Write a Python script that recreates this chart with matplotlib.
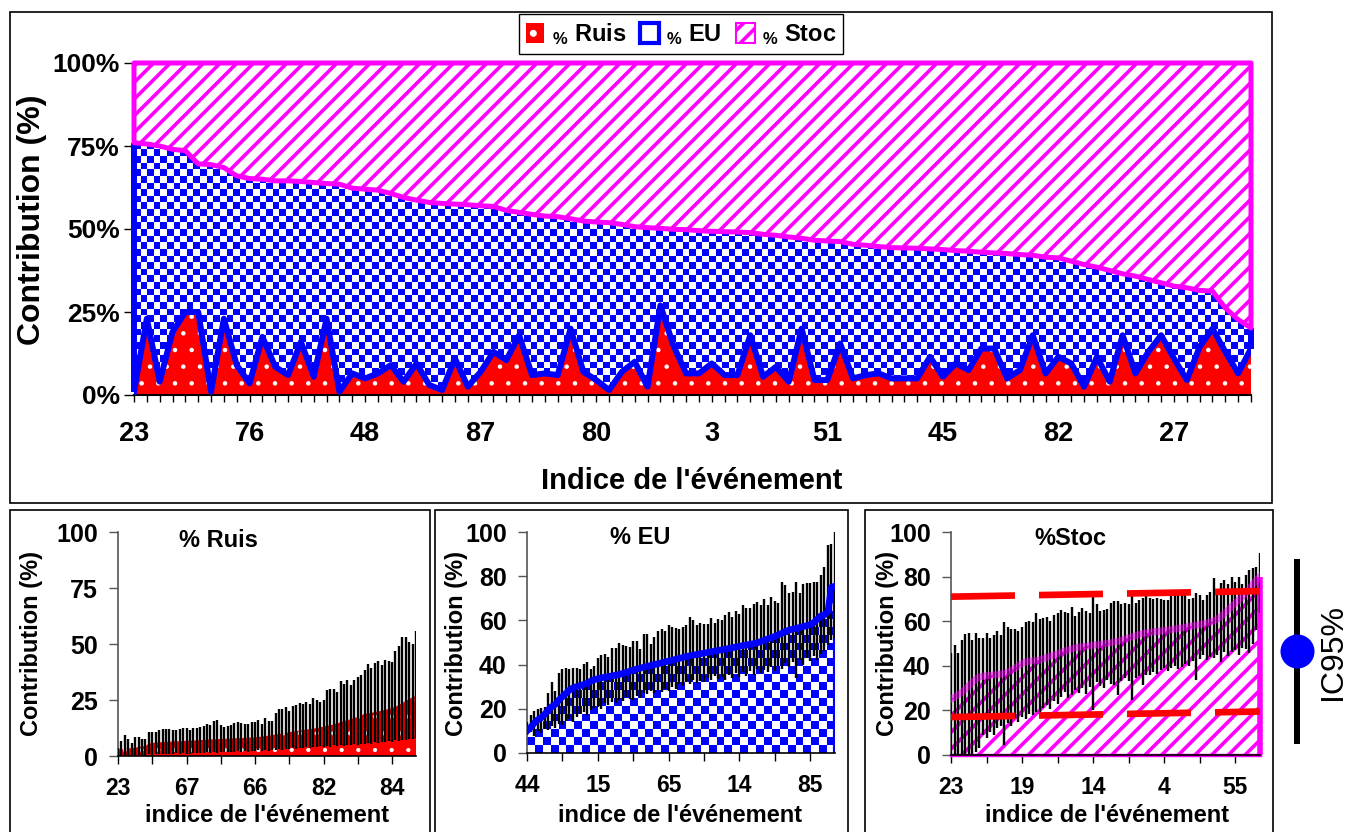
import numpy as np
import matplotlib
matplotlib.use('Agg')
import matplotlib.pyplot as plt
from matplotlib.colors import ListedColormap
from matplotlib.patches import Polygon, Patch, Rectangle
from matplotlib.lines import Line2D

# ---------------- donnees ----------------
# graphe du haut : contribution de chaque evenement (%)
pct_ruis = [1, 23, 4, 19, 25, 25, 1, 23, 9, 3.5,
            17.5, 8.5, 6, 16, 5.5, 23, 1, 6.5, 5, 6.5,
            9, 4, 9.5, 3, 1.5, 11, 2.5, 7, 13, 10.5,
            18, 6, 6.5, 6, 20, 7, 4.5, 1.5, 7, 10,
            2.5, 27, 15, 6.5, 6.5, 9.5, 6, 6, 18, 5.5,
            8.5, 4, 20, 4.5, 4.5, 15.5, 5, 6, 6.5, 5,
            5, 5, 11.5, 5.5, 9.5, 7.5, 14, 14, 5, 7.5,
            18, 6.5, 11.5, 9.5, 2.5, 11.5, 4, 18, 6.5, 13,
            18, 11, 4.5, 14.5, 20, 13, 6.5, 14]
pct_stoc = [24, 24.4, 25, 26, 26.4, 30.4, 30.6, 31.5, 34, 34.8,
            35, 35.5, 35.5, 35.7, 36, 36.3, 36.5, 37.7, 38, 38.3,
            39.3, 40.5, 41.3, 42, 42.3, 42.5, 42.7, 43, 43.2, 44.4,
            45, 45.6, 46.1, 46.3, 46.9, 47.6, 47.9, 48.1, 48.6, 49.3,
            49.6, 49.8, 50.1, 50.2, 50.5, 50.7, 50.8, 50.9, 51.1, 51.6,
            51.9, 52.4, 52.8, 53.4, 53.6, 53.8, 54.6, 54.9, 55.3, 55.6,
            55.7, 55.8, 56.0, 56.2, 56.5, 56.7, 57.0, 57.2, 57.4, 57.7,
            57.9, 58.5, 58.7, 59.7, 60.7, 61.5, 62.5, 63.5, 64.2, 65.2,
            66.2, 67.2, 67.7, 68.5, 68.7, 73.8, 77.3, 79.8]
etiq_haut = ['23', '76', '48', '87', '80', '3', '51', '45', '82', '27']

# panneau % Ruis (trie)
ruis_moy = [3.0, 3.0, 3.2, 3.4, 3.5, 3.7, 4.0, 4.2, 4.4, 5.6,
            5.8, 5.9, 6.1, 6.2, 6.3, 6.4, 6.5, 6.6, 6.6, 6.7,
            6.8, 6.8, 6.9, 7.0, 7.1, 7.2, 7.3, 7.4, 7.5, 7.5,
            7.6, 7.7, 7.7, 7.8, 7.9, 8.0, 8.0, 8.1, 8.2, 8.3,
            8.3, 8.5, 8.7, 8.9, 9.1, 9.3, 9.6, 9.8, 10.0, 10.3,
            10.6, 10.9, 11.1, 11.3, 11.5, 11.8, 12.0, 12.2, 12.5, 12.8,
            13.1, 13.4, 13.7, 14.1, 14.6, 15.1, 15.6, 16.0, 16.5, 17.0,
            17.6, 18.2, 18.8, 19.0, 19.3, 19.6, 19.9, 20.2, 20.6, 21.0,
            21.4, 22.0, 22.8, 23.6, 24.6, 25.4, 26.2, 27.0]
ruis_haut = [3.6, 6.5, 9.4, 7.5, 5.7, 8.3, 8.3, 7.5, 7.5, 10.9,
             10.9, 10.9, 11.6, 12.0, 12.0, 12.0, 11.8, 11.8, 12.2, 12.5,
             12.5, 11.8, 12.5, 12.5, 12.8, 13.6, 14.3, 13.8, 15.5, 16.0,
             14.0, 13.0, 13.2, 14.0, 14.6, 15.0, 14.7, 14.3, 14.3, 15.4,
             15.0, 16.0, 14.3, 17.0, 15.5, 15.8, 19.3, 21.0, 20.8, 21.8,
             20.2, 22.5, 22.8, 23.7, 23.0, 24.0, 23.0, 25.7, 25.2, 24.2,
             25.0, 29.4, 30.0, 30.0, 28.5, 33.5, 32.2, 33.8, 31.7, 33.8,
             35.2, 36.2, 38.6, 41.2, 39.5, 41.6, 42.3, 40.5, 43.0, 42.5,
             42.0, 47.0, 49.0, 53.0, 53.0, 51.0, 50.0, 56.0]
ruis_bas = [0.3, 0.1, 0.4, 0.2, 0.5, 0.3, 0.6, 0.4, 0.2, 0.8,
            0.6, 0.9, 0.7, 1.0, 0.8, 1.1, 0.9, 1.2, 1.0, 1.3,
            1.1, 0.9, 1.4, 1.2, 1.5, 1.3, 1.6, 1.4, 1.8, 1.5,
            1.7, 1.9, 1.6, 2.0, 1.8, 2.1, 1.9, 2.2, 2.0, 2.3,
            2.1, 2.5, 2.2, 2.7, 2.4, 2.9, 2.6, 3.1, 2.8, 3.3,
            3.0, 3.5, 3.2, 3.7, 3.4, 3.9, 3.6, 4.1, 3.8, 4.3,
            4.0, 4.5, 4.2, 4.7, 4.4, 4.9, 4.6, 5.1, 4.8, 5.3,
            5.0, 5.5, 5.2, 5.8, 5.5, 6.1, 5.8, 6.4, 6.1, 6.7,
            6.4, 7.0, 6.8, 7.3, 7.1, 7.6, 7.4, 7.9]
ruis_etiq = ['23', '67', '66', '82', '84']

# panneau % EU (trie)
eu_moy = [10.0, 11.5, 13.5, 15.0, 16.0, 17.5, 19.5, 21.0, 22.0, 24.0,
          25.5, 27.0, 28.5, 29.5, 30.0, 30.5, 31.0, 31.5, 32.5, 33.2,
          33.6, 34.0, 34.3, 34.6, 34.9, 35.2, 35.5, 36.0, 36.5, 37.0,
          37.5, 38.0, 38.4, 38.8, 39.2, 39.6, 40.0, 40.4, 40.8, 41.2,
          41.6, 42.0, 42.4, 42.8, 43.2, 43.6, 44.0, 44.3, 44.6, 44.9,
          45.2, 45.5, 45.8, 46.1, 46.4, 46.7, 47.0, 47.3, 47.6, 48.0,
          48.3, 48.6, 48.9, 49.2, 49.5, 49.8, 50.4, 51.0, 51.6, 52.2,
          52.8, 53.5, 54.2, 55.0, 55.6, 56.0, 56.4, 56.8, 57.2, 57.6,
          58.1, 59.0, 60.5, 62.0, 62.5, 64.0, 75.0, 75.5]
eu_haut = [14, 17, 19, 20, 20.5, 21, 27, 32, 28, 36,
           38, 38.5, 38, 38.3, 38.3, 38, 40.2, 41.3, 38, 39.5,
           43, 44.3, 45, 43.5, 47.6, 47.6, 50, 49, 48.6, 48,
           50.5, 50.5, 47, 54, 54, 49.5, 52.3, 55, 56, 55,
           57.9, 57, 56.4, 56, 57, 58, 61.5, 60, 58, 59,
           58.5, 58.5, 61, 59, 60.5, 60, 62.5, 63.8, 61.5, 64.4,
           62.8, 66.8, 65.6, 65.6, 67.2, 68.1, 67, 69.5, 67, 70.7,
           68.8, 67.7, 77.2, 75.8, 72.4, 73, 77.5, 72.4, 76.5, 76.9,
           76.9, 77.5, 77.5, 80.4, 84, 94, 94.7, 100]
eu_bas = [8.0, 9.5, 7.5, 10.0, 9.0, 11.0, 10.5, 12.0, 11.5, 13.0,
          12.5, 14.5, 15.5, 14.0, 16.5, 17.5, 18.5, 17.0, 19.5, 20.5,
          21.0, 20.0, 22.5, 21.5, 23.0, 22.5, 24.0, 23.5, 25.5, 24.5,
          24.0, 26.0, 25.0, 27.0, 26.5, 28.0, 27.0, 28.5, 27.5, 29.0,
          28.0, 30.0, 29.0, 31.0, 30.5, 32.0, 31.0, 33.0, 31.5, 32.5,
          32.0, 34.0, 33.0, 35.0, 33.5, 34.5, 33.0, 35.5, 34.0, 36.0,
          34.5, 36.5, 35.0, 37.0, 35.5, 38.0, 36.0, 37.5, 36.5, 39.0,
          37.0, 39.5, 38.0, 40.5, 39.0, 41.0, 34.0, 42.0, 40.0, 43.0,
          41.5, 44.0, 42.0, 45.0, 46.0, 49.0, 51.0, 52.0]
eu_etiq = ['44', '15', '65', '14', '85']

# panneau % Stoc (trie)
stoc_moy = [25.0, 26.0, 27.0, 28.0, 29.5, 31.0, 32.5, 34.0, 35.0, 35.3,
            35.5, 35.7, 35.9, 36.1, 36.3, 36.6, 37.2, 38.0, 38.9, 40.0,
            41.0, 41.8, 42.0, 42.2, 42.4, 42.6, 43.2, 43.8, 44.3, 44.8,
            45.4, 46.0, 46.6, 47.1, 47.6, 48.0, 48.4, 48.6, 48.8, 49.0,
            49.2, 49.4, 49.6, 49.8, 50.0, 50.3, 50.6, 51.0, 51.5, 52.0,
            52.5, 53.0, 53.5, 54.0, 54.5, 54.8, 55.0, 55.2, 55.4, 55.6,
            55.8, 56.0, 56.2, 56.5, 56.8, 57.0, 57.3, 57.6, 57.9, 58.2,
            58.5, 58.8, 59.2, 59.6, 60.2, 61.0, 62.0, 63.5, 65.0, 66.5,
            68.0, 69.5, 71.0, 72.5, 74.5, 76.5, 78.5, 80.0]
stoc_haut = [45.6, 49.3, 45.6, 51.6, 54.1, 54.6, 51.6, 54.6, 52.6, 52.6,
             54.6, 52.6, 53.8, 55.4, 53.8, 59.6, 57.6, 56.6, 56.6, 55.8,
             57.6, 59.6, 60.0, 59.6, 63.6, 61.0, 61.4, 61.7, 60.0, 62.8,
             63.5, 65.0, 64.3, 63.5, 66.4, 62.5, 64.3, 65.8, 64.6, 63.5,
             72.2, 67.8, 64.6, 65.0, 65.5, 68.1, 69.0, 69.0, 67.8, 68.1,
             67.8, 73.2, 68.1, 69.5, 70.4, 71.2, 70.4, 70.0, 70.4, 70.0,
             69.5, 69.5, 72.3, 72.3, 72.3, 73.0, 72.5, 70.0, 70.3, 72.5,
             71.8, 69.6, 71.8, 73.2, 79.5, 73.2, 77.0, 78.5, 76.5, 80.0,
             77.7, 80.0, 76.5, 80.7, 82.9, 84.0, 84.5, 90.4]
stoc_bas = [0.0, 0.0, 0.0, 0.0, 0.0, 0.0, 0.5, 1.2, 3.0, 8.9,
            7.5, 10.3, 9.0, 12.0, 13.2, 4.3, 14.5, 13.0, 16.4, 15.0,
            17.0, 16.0, 18.5, 17.9, 19.5, 18.5, 21.0, 22.4, 20.5, 24.0,
            23.0, 26.0, 28.4, 25.5, 27.0, 29.0, 28.0, 29.9, 27.5, 30.5,
            20.0, 32.9, 31.0, 30.0, 33.5, 32.0, 31.4, 27.0, 33.0, 34.5,
            33.0, 24.7, 34.4, 35.5, 31.4, 36.0, 35.9, 37.0, 36.5, 38.0,
            38.9, 37.5, 39.0, 40.0, 38.5, 39.6, 41.0, 40.0, 42.0, 33.6,
            43.0, 44.8, 42.5, 44.0, 43.4, 45.0, 41.9, 46.0, 44.5, 46.3,
            47.0, 45.0, 48.0, 47.5, 45.6, 50.0, 56.0, 63.5]
stoc_etiq = ['23', '19', '14', '4', '55']
seuil_haut = [71, 73.5]
seuil_bas = [17, 19.5]

# ---------------- style ----------------
plt.rcParams['font.family'] = ['Liberation Sans', 'DejaVu Sans']
plt.rcParams['font.weight'] = 'bold'
plt.rcParams['hatch.linewidth'] = 2.6
plt.rcParams['mathtext.fontset'] = 'custom'
plt.rcParams['mathtext.rm'] = 'Liberation Sans:bold'
plt.rcParams['mathtext.it'] = 'Liberation Sans:bold'
plt.rcParams['mathtext.bf'] = 'Liberation Sans:bold'
plt.rcParams['mathtext.default'] = 'rm'

ROUGE, BLEU, MAGENTA = '#FF0000', '#0000FF', '#FF00FF'
W, H = 1348, 832
fig = plt.figure(figsize=(W / 100, H / 100), dpi=100)


def rect(x0, y0, x1, y1):
    return [x0 / W, 1 - y1 / H, (x1 - x0) / W, (y1 - y0) / H]


def fin_hachure(coll, lw):
    if hasattr(coll, 'set_hatch_linewidth'):
        coll.set_hatch_linewidth(lw)


def damier(ax, x, bas, haut, cell, zorder):
    # motif damier bleu/blanc clippe sur la zone entre bas et haut
    pos = ax.get_position()
    nx = int(round(pos.width * W / cell))
    ny = int(round(pos.height * H / cell))
    grille = np.indices((ny, nx)).sum(axis=0) % 2
    x0, x1 = ax.get_xlim()
    y0, y1 = ax.get_ylim()
    im = ax.imshow(grille, cmap=ListedColormap(['white', BLEU]), vmin=0, vmax=1,
                   extent=[x0, x1, y0, y1], origin='lower', aspect='auto',
                   interpolation='nearest', zorder=zorder)
    verts = np.column_stack([np.r_[x, x[::-1]], np.r_[haut, bas[::-1]]])
    poly = Polygon(verts, closed=True, transform=ax.transData,
                   facecolor='none', edgecolor='none')
    im.set_clip_path(poly)


# cadres
for (x0, y0, x1, y1) in [(10, 12, 1272, 503), (10, 510, 430, 845),
                         (435, 510, 848, 845), (865, 510, 1273, 845)]:
    fig.add_artist(Rectangle((x0 / W, 1 - y1 / H), (x1 - x0) / W, (y1 - y0) / H,
                             transform=fig.transFigure, fill=False,
                             ec='black', lw=1.2))

# ---------------- graphe du haut ----------------
ruis = np.array(pct_ruis, dtype=float)
stoc = np.array(pct_stoc, dtype=float)
eu = 100 - ruis - stoc
x = np.arange(len(ruis))
b1 = ruis
b2 = ruis + eu

ax = fig.add_axes(rect(134, 63, 1251, 395))
ax.set_xlim(0, x[-1])
ax.set_ylim(0, 100)
fr = ax.fill_between(x, 0, b1, facecolor=ROUGE, edgecolor='white', hatch='.',
                     lw=0, zorder=1)
fin_hachure(fr, 0.8)
damier(ax, x, b1, b2, 6.6, zorder=2)
ax.plot(x, b1, color=BLEU, lw=4.3, zorder=3, solid_joinstyle='round')
ax.vlines([x[0], x[-1]], [b1[0], b1[-1]], [b2[0], b2[-1]], colors=BLEU,
          lw=4.3, zorder=3, clip_on=False)
ax.fill_between(x, b2, 100, facecolor='white', edgecolor=MAGENTA, hatch='//',
                lw=3.6, zorder=4, clip_on=False)

ax.set_yticks([0, 25, 50, 75, 100])
ax.set_yticklabels(['0%', '25%', '50%', '75%', '100%'])
lab = [''] * len(x)
for k, e in enumerate(etiq_haut):
    lab[9 * k] = e
ax.set_xticks(x)
ax.set_xticklabels(lab)
ax.tick_params(axis='y', direction='out', length=7, width=1, pad=3, labelsize=19)
ax.tick_params(axis='x', direction='out', length=5, width=1, pad=14, labelsize=19.5)
for s in ['top', 'right']:
    ax.spines[s].set_visible(False)
ax.spines['bottom'].set_linewidth(1.5)
fig.text(32 / W, 1 - 220 / H, 'Contribution (%)', rotation=90, ha='center',
         va='center', fontsize=23)
fig.text(692 / W, 1 - 481 / H, "Indice de l'événement", ha='center',
         va='center', fontsize=21)

poignees = [Patch(facecolor=ROUGE, edgecolor='white', hatch='.', lw=0),
            Patch(facecolor='white', edgecolor=BLEU, lw=3),
            Patch(facecolor='white', edgecolor=MAGENTA, hatch='//', lw=1.5)]
leg = fig.legend(poignees, [r'$_{\%}$ Ruis', r'$_{\%}$ EU', r'$_{\%}$ Stoc'],
                 loc='center', bbox_to_anchor=(681 / W, 1 - 34 / H), ncol=3,
                 fontsize=17, fancybox=False, edgecolor='black', framealpha=1,
                 handlelength=0.8, handleheight=0.9, handletextpad=0.3,
                 columnspacing=0.6, borderpad=0.3)
leg.get_frame().set_linewidth(1)

# ---------------- petits panneaux ----------------
xb = np.arange(len(ruis_moy))


def habille(ax, yticks, etiq, titre, tx, ty):
    ax.set_xlim(0, xb[-1])
    ax.set_ylim(0, 100)
    ax.set_yticks(yticks)
    ax.set_yticklabels([str(v) for v in yticks])
    ticks = np.arange(0, len(xb), 10)
    labs = [''] * len(ticks)
    for k, e in enumerate(etiq):
        labs[2 * k] = e
    ax.set_xticks(ticks)
    ax.set_xticklabels(labs)
    ax.tick_params(axis='y', direction='out', length=6.5, width=1, pad=8,
                   labelsize=18, color='#555555')
    ax.tick_params(axis='x', direction='out', length=6, width=1, pad=9,
                   labelsize=16.5)
    for s in ['top', 'right']:
        ax.spines[s].set_visible(False)
    ax.spines['left'].set_color('#555555')
    ax.spines['left'].set_linewidth(1.2)
    ax.spines['bottom'].set_linewidth(1.2)
    ax.text(tx, ty, titre, transform=ax.transAxes, ha='center', va='center',
            fontsize=17)


# % Ruis
a1 = fig.add_axes(rect(118, 532, 416, 756))
f1 = a1.fill_between(xb, 0, ruis_moy, facecolor=ROUGE, edgecolor='white',
                     hatch='.', lw=0, zorder=2)
fin_hachure(f1, 0.6)
a1.vlines(xb, ruis_bas, ruis_haut, colors='black', lw=1.7, zorder=3)
habille(a1, [0, 25, 50, 75, 100], ruis_etiq, '% Ruis', 0.336, 0.964)

# % EU
a2 = fig.add_axes(rect(527, 532, 835, 753))
a2.set_xlim(0, xb[-1])
a2.set_ylim(0, 100)
damier(a2, xb, np.zeros(len(xb)), np.array(eu_moy), 7.8, zorder=1)
a2.vlines(xb[-1], 0, eu_moy[-1], colors=BLEU, lw=3, zorder=2)
a2.vlines(xb, eu_bas, eu_haut, colors='black', lw=1.7, zorder=3)
a2.plot(xb, eu_moy, color=BLEU, lw=4.8, zorder=4)
habille(a2, [0, 20, 40, 60, 80, 100], eu_etiq, '% EU', 0.367, 0.977)

# % Stoc
a3 = fig.add_axes(rect(951, 532, 1260, 755))
a3.fill_between(xb, 0, stoc_moy, facecolor='white', edgecolor=MAGENTA,
                hatch='//', lw=0, zorder=1)
a3.vlines(xb[-1], 0, stoc_moy[-1], colors=MAGENTA, lw=4, zorder=2, clip_on=False)
a3.plot([xb[0], xb[-1]], [0, 0], color=MAGENTA, lw=2.5, zorder=2, clip_on=False)
a3.vlines(xb, stoc_bas, stoc_haut, colors='black', lw=1.7, zorder=3)
a3.plot(xb, stoc_moy, color=MAGENTA, lw=5, alpha=0.5, zorder=4)
for s in (seuil_haut, seuil_bas):
    a3.plot([xb[0], xb[-1]], s, color=ROUGE, lw=4.8, ls=(0, (9.6, 3.6)),
            dash_capstyle='butt', zorder=5)
habille(a3, [0, 20, 40, 60, 80, 100], stoc_etiq, '%Stoc', 0.385, 0.973)

# libelles des petits panneaux
for xc in (32, 456, 887):
    fig.text(xc / W, 1 - 643 / H, 'Contribution (%)', rotation=90, ha='center',
             va='center', fontsize=17)
for xc in (267, 680, 1107):
    fig.text(xc / W, 1 - 815 / H, "indice de l'événement", ha='center',
             va='center', fontsize=17)

# legende IC95%
fig.add_artist(Line2D([1297 / W, 1297 / W], [1 - 562 / H, 1 - 741 / H],
                      color='black', lw=4.3, transform=fig.transFigure))
fig.add_artist(Line2D([1297 / W], [1 - 651 / H], marker='o', ms=23.5,
                      color=BLEU, ls='none', transform=fig.transFigure, zorder=3))
fig.text(1333 / W, 1 - 652 / H, 'IC95%', rotation=90, ha='center', va='center',
         fontsize=23, fontweight='normal')

fig.savefig('out.png', dpi=100)
